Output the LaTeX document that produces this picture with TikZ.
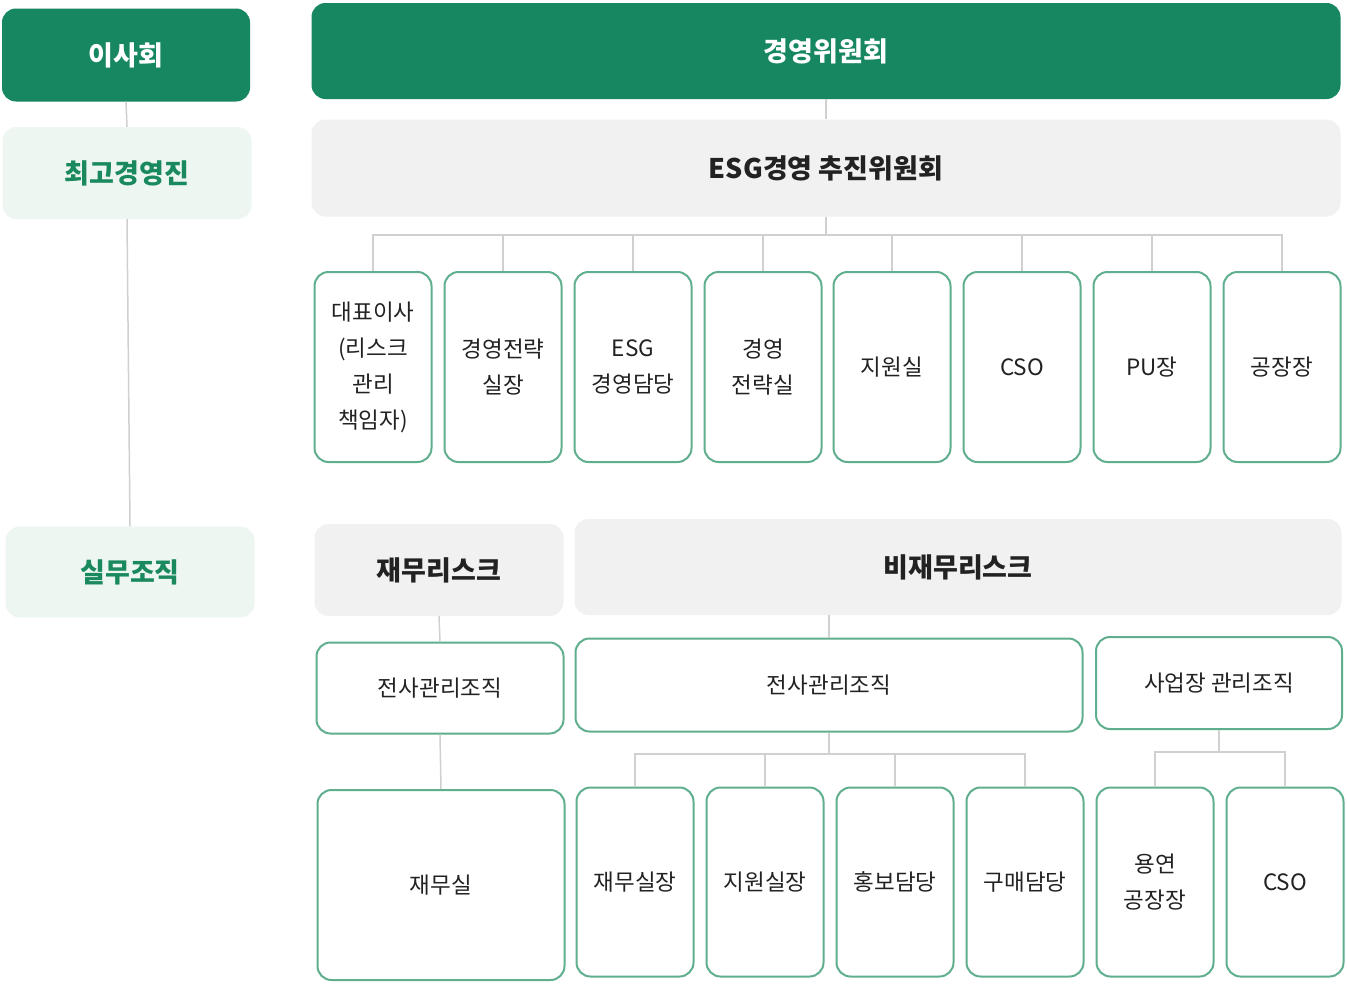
\documentclass[tikz,border=0pt]{standalone}
\usepackage{fontspec}
\setmainfont{Noto Sans CJK KR}
\definecolor{dg}{HTML}{168760}
\definecolor{lg}{HTML}{EEF6F2}
\definecolor{gy}{HTML}{F1F1F1}
\definecolor{gb}{HTML}{5FAE8E}
\definecolor{ln}{HTML}{D0D0D0}
\definecolor{tx}{HTML}{222222}
\definecolor{gt}{HTML}{1A8A5E}
\tikzset{
  every node/.style={inner sep=0pt, align=center},
  darkbox/.style={rectangle, rounded corners=14pt, fill=dg, text=white, font=\fontsize{27}{32}\selectfont\bfseries},
  lightbox/.style={rectangle, rounded corners=14pt, fill=lg, text=gt, font=\fontsize{27}{32}\selectfont\bfseries},
  graybox/.style={rectangle, rounded corners=14pt, fill=gy, text=tx, font=\fontsize{27}{32}\selectfont\bfseries},
  linebox/.style={rectangle, rounded corners=14pt, draw=gb, line width=2pt, fill=white, text=tx, font=\fontsize{22.5}{36}\selectfont},
  conn/.style={draw=ln, line width=1.5pt},
}
\begin{document}
\begin{tikzpicture}[x=1pt,y=-1pt]
\useasboundingbox[fill=white] (0,0) rectangle (1347,985);
% left column
\node[darkbox, minimum width=248pt, minimum height=93pt] (board) at (126,55) {이사회};
\node[lightbox, minimum width=249pt, minimum height=92pt] (ceo) at (127,173) {최고경영진};
\node[lightbox, minimum width=249pt, minimum height=91pt] (work) at (130,572) {실무조직};
% top
\node[darkbox, minimum width=1029pt, minimum height=96pt] (mgmt) at (826,51) {경영위원회};
\node[graybox, minimum width=1029pt, minimum height=97pt] (esg) at (826,168) {ESG경영 추진위원회};
% executive row
\foreach \i/\x/\t in {1/373/{대표이사\\(리스크\\관리\\책임자)},2/503/{경영전략\\실장},3/633/{ESG\\경영담당},4/763/{경영\\전략실},5/892/{지원실},6/1022/{CSO},7/1152/{PU장},8/1282/{공장장}}
  \node[linebox, minimum width=117pt, minimum height=190pt] (r\i) at (\x,367) {\t};
% risk
\node[graybox, minimum width=249pt, minimum height=92pt] (fin) at (439,570) {재무리스크};
\node[graybox, minimum width=767pt, minimum height=96pt] (nonfin) at (958,567) {비재무리스크};
\node[linebox, minimum width=247pt, minimum height=91pt] (org1) at (440,688) {전사관리조직};
\node[linebox, minimum width=507pt, minimum height=93pt] (org2) at (829,685) {전사관리조직};
\node[linebox, minimum width=246pt, minimum height=92pt] (org3) at (1219,683) {사업장 관리조직};
\node[linebox, minimum width=247pt, minimum height=190pt] (jm) at (441,885) {재무실};
\foreach \i/\x/\t in {1/635/{재무실장},2/765/{지원실장},3/895/{홍보담당},4/1025/{구매담당},5/1155/{용연\\공장장},6/1285/{CSO}}
  \node[linebox, minimum width=117pt, minimum height=189pt] (b\i) at (\x,882) {\t};
% connectors
\coordinate (busA) at (0,235);
\coordinate (busB) at (0,754);
\coordinate (busC) at (0,752);
\draw[conn] (board.south) -- (ceo.north);
\draw[conn] (ceo.south) -- (work.north);
\draw[conn] (mgmt.south) -- (esg.north);
\draw[conn] (esg.south) -- (esg.south |- busA);
\draw[conn] (r1.north) -- (r1.north |- busA) -- (r8.north |- busA) -- (r8.north);
\foreach \i in {2,...,7} \draw[conn] (r\i.north) -- (r\i.north |- busA);
\draw[conn] (fin.south) -- (org1.north);
\draw[conn] (nonfin.south -| org2.north) -- (org2.north);
\draw[conn] (org1.south) -- (jm.north);
\draw[conn] (org2.south) -- (org2.south |- busB);
\draw[conn] (b1.north) -- (b1.north |- busB) -- (b4.north |- busB) -- (b4.north);
\foreach \i in {2,3} \draw[conn] (b\i.north) -- (b\i.north |- busB);
\draw[conn] (org3.south) -- (org3.south |- busC);
\draw[conn] (b5.north) -- (b5.north |- busC) -- (b6.north |- busC) -- (b6.north);
\end{tikzpicture}
\end{document}
